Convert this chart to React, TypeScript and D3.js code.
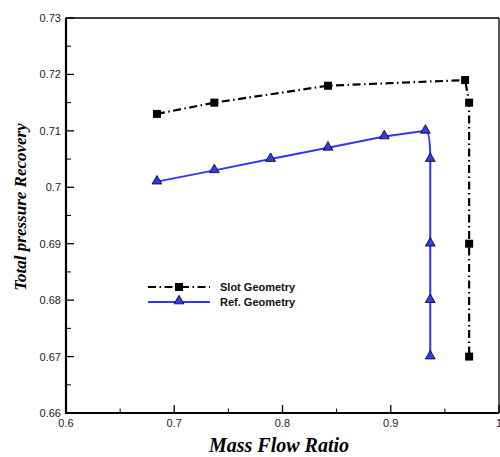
import React from "react";
import * as d3 from "d3";

const slotX = [0.684, 0.737, 0.842, 0.9687, 0.9724, 0.9724, 0.9724];
const slotY = [0.713, 0.715, 0.718, 0.719, 0.715, 0.690, 0.670];
const refX = [0.684, 0.737, 0.789, 0.842, 0.894, 0.932, 0.9365, 0.9365, 0.9365, 0.9365];
const refY = [0.701, 0.703, 0.705, 0.707, 0.709, 0.710, 0.705, 0.690, 0.680, 0.670];
const xTicks = [0.6, 0.7, 0.8, 0.9, 1.0];
const xTickLabels = ["0.6", "0.7", "0.8", "0.9", "1"];
const yTicks = [0.66, 0.67, 0.68, 0.69, 0.7, 0.71, 0.72, 0.73];
const yTickLabels = ["0.66", "0.67", "0.68", "0.69", "0.7", "0.71", "0.72", "0.73"];
const xMinor = [0.65, 0.75, 0.85, 0.95];
const yMinor = [0.665, 0.675, 0.685, 0.695, 0.705, 0.715, 0.725];
const legendLabels = ["Slot Geometry", "Ref. Geometry"];

export default function App() {
  const W = 500, H = 457;
  const x = d3.scaleLinear().domain([0.6, 1.0]).range([66, 499]);
  const y = d3.scaleLinear().domain([0.66, 0.73]).range([413, 18]);
  const slot = slotX.map((v, i) => [v, slotY[i]] as [number, number]);
  const ref = refX.map((v, i) => [v, refY[i]] as [number, number]);
  const lineSlot = d3.line<[number, number]>().x(d => x(d[0])).y(d => y(d[1]));

  // Ref line: straight segments, with a rounded corner between the peak and the vertical branch
  const p = d3.path();
  ref.forEach((d, i) => {
    const px = x(d[0]), py = y(d[1]);
    if (i === 0) p.moveTo(px, py);
    else if (i === 6) {
      const prev = ref[5];
      p.quadraticCurveTo(px, y(prev[1]), px, py);
    } else p.lineTo(px, py);
  });
  const refPath = p.toString();

  const tri = d3.symbol().type(d3.symbolTriangle).size(42)() as string;
  const blue = "#3535f5";
  const triFill = "#2f3fe8";
  const dash = "8 3.5 1.5 3.5";
  const lx0 = 148, lx1 = 210, lxm = 179, ly1 = 287, ly2 = 302;
  return (
    <svg width={W} height={H} style={{ position: "absolute", left: 0, top: 0 }} fontFamily="Arial, 'Liberation Sans', sans-serif">
      <rect x={0} y={0} width={W} height={H} fill="white" />
      {/* frame */}
      <line x1={x(0.6)} x2={x(1.0)} y1={y(0.73)} y2={y(0.73)} stroke="#000" strokeWidth={1.3} />
      <line x1={x(1.0)} x2={x(1.0)} y1={y(0.73)} y2={y(0.66)} stroke="#000" strokeWidth={1.3} />
      <line x1={x(0.6)} x2={x(0.6)} y1={y(0.73) - 0.6} y2={y(0.66) + 1} stroke="#000" strokeWidth={2.2} />
      <line x1={x(0.6) - 1} x2={x(1.0)} y1={y(0.66)} y2={y(0.66)} stroke="#000" strokeWidth={2.2} />
      {/* ticks */}
      {xTicks.map((t, i) => (
        <g key={"xt" + i}>
          <line x1={x(t)} x2={x(t)} y1={y(0.66)} y2={y(0.66) - 8} stroke="#000" strokeWidth={1.3} />
          <text x={x(t)} y={427} fontSize={11} textAnchor="middle" fill="#222">{xTickLabels[i]}</text>
        </g>
      ))}
      {xMinor.map((t, i) => (
        <line key={"xm" + i} x1={x(t)} x2={x(t)} y1={y(0.66)} y2={y(0.66) - 4.5} stroke="#000" strokeWidth={1} />
      ))}
      {yTicks.map((t, i) => (
        <g key={"yt" + i}>
          <line x1={x(0.6)} x2={x(0.6) + 8} y1={y(t)} y2={y(t)} stroke="#000" strokeWidth={1.3} />
          <text x={61} y={y(t) + 4} fontSize={11} textAnchor="end" fill="#222">{yTickLabels[i]}</text>
        </g>
      ))}
      {yMinor.map((t, i) => (
        <line key={"ym" + i} x1={x(0.6)} x2={x(0.6) + 5} y1={y(t)} y2={y(t)} stroke="#000" strokeWidth={1} />
      ))}
      {/* series */}
      <path d={lineSlot(slot) as string} fill="none" stroke="#000" strokeWidth={2.2} strokeDasharray={dash} />
      <path d={refPath} fill="none" stroke={blue} strokeWidth={2} />
      {slot.map((d, i) => (
        <rect key={"s" + i} x={x(d[0]) - 4} y={y(d[1]) - 4} width={8} height={8} fill="#000" />
      ))}
      {ref.map((d, i) => (
        <path key={"r" + i} d={tri} transform={`translate(${x(d[0])},${y(d[1]) - 0.5})`} fill={triFill} stroke="#000" strokeWidth={0.8} />
      ))}
      {/* legend */}
      <line x1={lx0} x2={lx1} y1={ly1} y2={ly1} stroke="#000" strokeWidth={2.2} strokeDasharray={dash} />
      <rect x={lxm - 4} y={ly1 - 4} width={8} height={8} fill="#000" />
      <text x={220} y={ly1 + 4} fontSize={11} fontWeight="bold" fill="#111">{legendLabels[0]}</text>
      <line x1={lx0} x2={lx1} y1={ly2} y2={ly2} stroke={blue} strokeWidth={2} />
      <path d={tri} transform={`translate(${lxm},${ly2 - 1})`} fill={triFill} stroke="#000" strokeWidth={0.8} />
      <text x={220} y={ly2 + 4} fontSize={11} fontWeight="bold" fill="#111">{legendLabels[1]}</text>
      {/* titles */}
      <text x={279} y={452} fontSize={20} fontWeight="bold" fontStyle="italic" textAnchor="middle" fontFamily="'Liberation Serif', 'Times New Roman', serif">Mass Flow Ratio</text>
      <text transform="translate(26,207) rotate(-90)" fontSize={17} fontWeight="bold" fontStyle="italic" textAnchor="middle" fontFamily="'Liberation Serif', 'Times New Roman', serif">Total pressure Recovery</text>
    </svg>
  );
}
